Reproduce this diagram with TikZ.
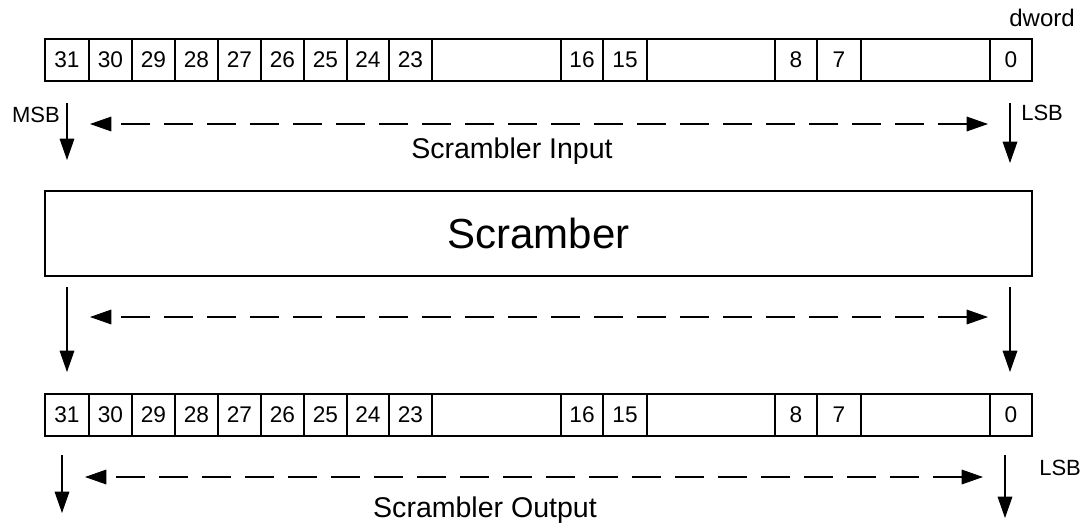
\documentclass[tikz,border=0pt]{standalone}
\usepackage{fontspec}
\setmainfont{Liberation Sans}
\usetikzlibrary{arrows.meta}
\begin{document}
\begin{tikzpicture}[x=0.75pt,y=-0.75pt,
  cell/.style={draw, line width=1.6pt, minimum height=31.5pt, inner sep=0pt,
    font=\fontsize{17}{19}\selectfont},
  blockbox/.style={draw, line width=1.6pt, minimum width=740.25pt, minimum height=63.75pt,
    inner sep=0pt, font=\fontsize{31.5}{34}\selectfont},
  flow/.style={line width=0.8pt, -{Triangle[length=16pt,width=11pt]}},
  spanline/.style={line width=0.8pt, dash pattern=on 21.75pt off 10.5pt,
    {Triangle[length=16pt,width=11pt]}-{Triangle[length=16pt,width=11pt]}},
  lbl/.style={font=\fontsize{16.5}{18}\selectfont, inner sep=0pt},
  title/.style={font=\fontsize{21.4}{24}\selectfont, inner sep=0pt}
]
\useasboundingbox (0,0) rectangle (1090,526);

% registers
\foreach \l/\r/\t/\n in {45/89/31/31, 89/132/30/30, 132/175/29/29, 175/218/28/28,
  218/261/27/27, 261/304/26/26, 304/347/25/25, 347/389/24/24, 389/432/23/23,
  432/561/{}/g1, 561/603/16/16, 603/647/15/15, 647/775/{}/g2, 775/817/8/8,
  817/861/7/7, 861/990/{}/g3, 990/1032/0/0} {
  \node[cell, minimum width={(\r-\l)*0.75pt}] (t\n) at ({(\l+\r)/2}, 60) {\t};
  \node[cell, minimum width={(\r-\l)*0.75pt}] (b\n) at ({(\l+\r)/2}, 415) {\t};
}

% scrambler block
\node[blockbox] (scr) at (538.5, 233.5) {Scramber};

% labels
\node[lbl, font=\fontsize{18}{20}\selectfont, anchor=base east] (dword) at (1075, 26.5) {dword};
\node[lbl, anchor=base east] (msb) at (60, 122) {MSB};
\node[lbl, anchor=base west] (lsbT) at (1021, 120) {LSB};
\node[lbl, anchor=base west] (lsbB) at (1039, 475) {LSB};
\node[title, anchor=base] (inlbl) at (512, 158) {Scrambler Input};
\node[title, anchor=base] (outlbl) at (485, 517) {Scrambler Output};

% coordinates for arrows
\coordinate (a1s) at (67,103);   \coordinate (a1e) at (67,160);
\coordinate (a2s) at (1010,103); \coordinate (a2e) at (1010,163);
\coordinate (a3s) at (67,287);   \coordinate (a3e) at (67,372);
\coordinate (a4s) at (1010,287); \coordinate (a4e) at (1010,372);
\coordinate (a5s) at (62,455);   \coordinate (a5e) at (62,513);
\coordinate (a6s) at (1005,455); \coordinate (a6e) at (1005,518);

\coordinate (d1r) at (988,124); \coordinate (d1l) at (90,124);
\coordinate (d2r) at (988,317); \coordinate (d2l) at (90,317);
\coordinate (d3r) at (983,477); \coordinate (d3l) at (85,477);

\draw[flow] (a1s) -- (a1e);
\draw[flow] (a2s) -- (a2e);
\draw[flow] (a3s) -- (a3e);
\draw[flow] (a4s) -- (a4e);
\draw[flow] (a5s) -- (a5e);
\draw[flow] (a6s) -- (a6e);

\draw[spanline] (d1r) -- (d1l);
\draw[spanline] (d2r) -- (d2l);
\draw[spanline] (d3r) -- (d3l);
\end{tikzpicture}
\end{document}
